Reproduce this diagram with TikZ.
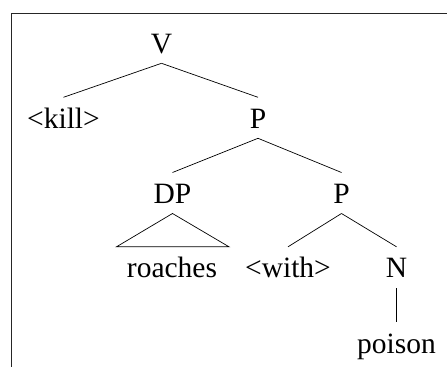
\documentclass[tikz,border=0pt]{standalone}
\usepackage{fontspec}
\setmainfont{Liberation Serif}
\usetikzlibrary{calc}
\tikzset{
  lbl/.style={anchor=base, inner sep=0pt, font=\fontsize{29.5}{35}\selectfont},
  br/.style={line width=0.7pt},
  frm/.style={line width=0.9pt, draw=black!85}
}
\begin{document}
\begin{tikzpicture}[x=1pt,y=1pt]
\useasboundingbox (0,0) rectangle (447,367);
% frame
\coordinate (fc) at (11,353.3);
\coordinate (fr) at (447,353.3);
\coordinate (fb) at (11,0);
\draw[frm] (fr) -- (fc) -- (fb);
% labels
\node[lbl] (V) at (161.5,313.7) {V};
\node[lbl] (kill) at (63.5,238.7) {<kill>};
\node[lbl] (P1) at (258,238.7) {P};
\node[lbl] (DP) at (172.5,163.5) {DP};
\node[lbl] (P2) at (341.5,163.5) {P};
\node[lbl] (roaches) at (172,89.7) {roaches};
\node[lbl] (with) at (288,89.7) {<with>};
\node[lbl] (N) at (396.5,89.7) {N};
\node[lbl] (poison) at (396.5,13.7) {poison};
% branches
\draw[br] ($(V.base)+(0,-10)$) -- ($(kill.base)+(0,31)$);
\draw[br] ($(V.base)+(0,-10)$) -- ($(P1.base)+(0,31)$);
\draw[br] ($(P1.base)+(0,-10)$) -- ($(DP.base)+(0,31)$);
\draw[br] ($(P1.base)+(0,-10)$) -- ($(P2.base)+(0,31)$);
\draw[br] ($(DP.base)+(0,-10)$) -- ($(roaches.base)+(-55.5,30.5)$) -- ($(roaches.base)+(57,30.5)$) -- cycle;
\draw[br] ($(P2.base)+(0,-10)$) -- ($(with.base)+(0,30.5)$);
\draw[br] ($(P2.base)+(0,-10)$) -- ($(N.base)+(0,30.5)$);
\draw[br] ($(N.base)+(0,-11)$) -- ($(poison.base)+(0,31.6)$);
\end{tikzpicture}
\end{document}
